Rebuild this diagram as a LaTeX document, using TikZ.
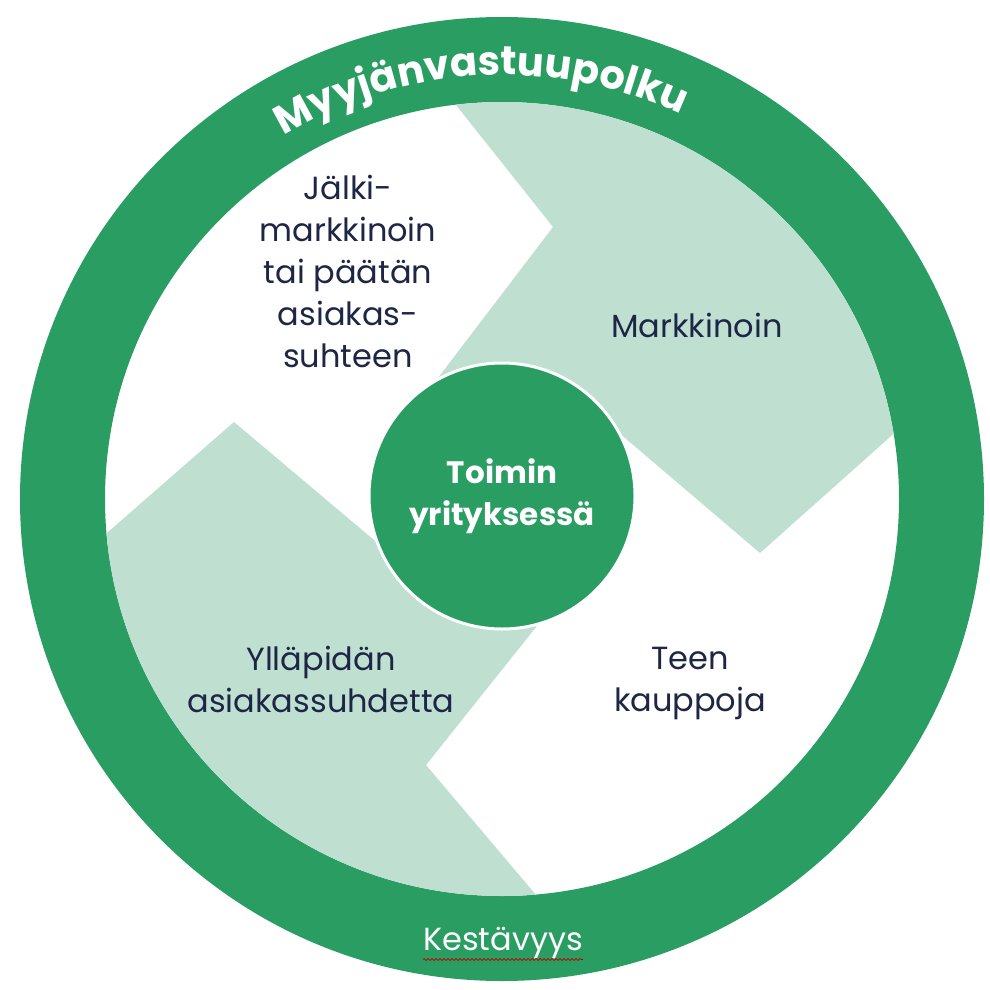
\documentclass[tikz,border=0pt]{standalone}
\usepackage{fontspec}
\setmainfont{Poppins}
\usetikzlibrary{decorations.text,decorations.pathmorphing}
\definecolor{ringgreen}{HTML}{2A9D62}
\definecolor{lightgreen}{HTML}{BFE0D0}
\definecolor{navy}{HTML}{1D2645}
\newcommand\titlefont{\fontsize{40}{48}\selectfont\bfseries}
\begin{document}
\begin{tikzpicture}[x=1pt,y=1pt,
  bodytext/.style={text=navy, align=center, font=\fontsize{32}{42}\selectfont, inner sep=0pt},
  blade/.style={fill=lightgreen},
  hubstyle/.style={circle, fill=ringgreen, draw=white, line width=3pt, minimum size=266pt, inner sep=0pt,
    text=white, align=center, font=\fontsize{31}{42}\selectfont\bfseries}]
\useasboundingbox (0,0) rectangle (990,-990);
\fill[white] (0,0) rectangle (990,-990);
\coordinate (C) at (502,-499);
% outer ring
\fill[ringgreen, even odd rule] (C) circle[radius=482] (C) circle[radius=397];
% light green blades
\begin{scope}
  \clip (C) circle[radius=397];
  \fill[blade] (351,27) -- (553,-227) -- (428,-391) -- (502,-496) -- (591,-409)
     -- (760,-553) -- (1020,-321) -- (1020,27) -- cycle;
  \fill[blade] (658,-1039) -- (426,-765) -- (552,-607) -- (502,-496) -- (406,-567)
     -- (234,-422) -- (-18,-642) -- (-18,-1039) -- cycle;
\end{scope}
% hub
\node[hubstyle] (hub) at (502,-496) {Toimin\\yrityksessä};
% quadrant texts
\node[bodytext] (jalki) at (348,-271) {Jälki-\\markkinoin\\tai päätän\\asiakas-\\suhteen};
\node[bodytext] (mark) at (697,-325) {Markkinoin};
\node[bodytext] (teen) at (690,-683) {Teen\\kauppoja};
\node[bodytext] (yll) at (321,-679) {Ylläpidän\\asiakassuhdetta};
% ring title
\path[decorate, decoration={text along path, text align=center, text color=white,
   text={|\titlefont|Myyjänvastuupolku}}]
   ([shift={(133:424)}]C) arc[start angle=133, end angle=53, radius=424];
% bottom label
\node[text=white, font=\fontsize{32}{38}\selectfont, inner sep=0pt] (kest) at (503,-943) {Kestävyys};
\draw[red!75!black, line width=0.7pt, decorate, decoration={snake, amplitude=1pt, segment length=4pt}]
   ([yshift=-9pt]kest.base west) -- ([yshift=-9pt]kest.base east);
\end{tikzpicture}
\end{document}
